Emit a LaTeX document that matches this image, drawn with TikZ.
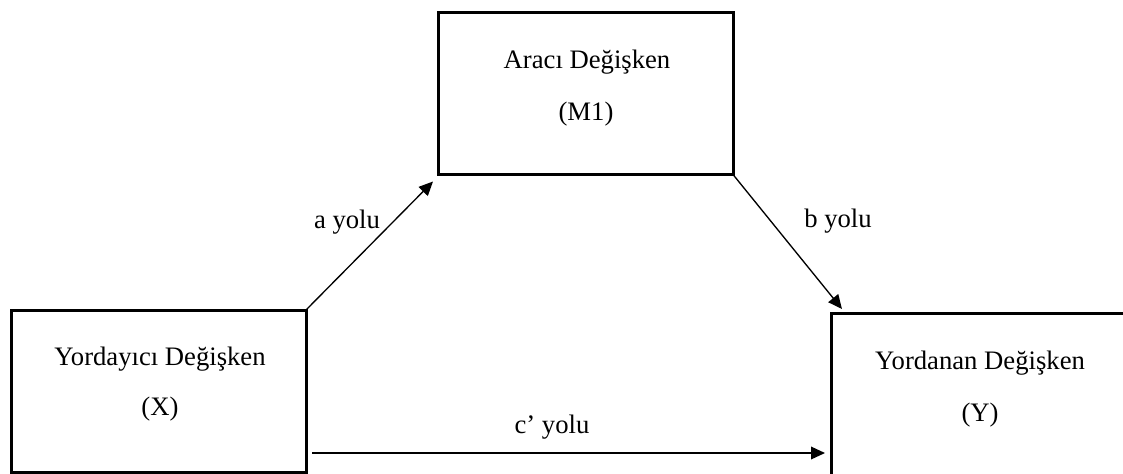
\documentclass[tikz,border=0pt]{standalone}
\usepackage{fontspec}
\setmainfont{Liberation Serif}
\usetikzlibrary{arrows.meta}
\begin{document}
\begin{tikzpicture}[x=0.75pt,y=-0.75pt,
  varbox/.style={draw, line width=2.25pt, inner sep=0pt, outer sep=0pt,
    minimum width=221.25pt, minimum height=121.5pt, anchor=north west},
  lbl/.style={font=\fontsize{20}{24}\selectfont, inner sep=0pt, anchor=base},
  arr/.style={line width=1pt, -{Triangle[length=10.5pt,width=9.5pt]}}]
\useasboundingbox (0,0) rectangle (1123,474);
\clip (0,0) rectangle (1123,474);
\node[varbox] (M) at (438,12.5) {};
\node[varbox] (X) at (11,310) {};
\node[varbox] (Y) at (831,313) {};
\node[lbl] (M1) at (587,69) {Aracı Değişken};
\node[lbl] (M2) at (586,121) {(M1)};
\node[lbl] (X1) at (160,365) {Yordayıcı Değişken};
\node[lbl] (X2) at (160,415) {(X)};
\node[lbl] (Y1) at (980,369) {Yordanan Değişken};
\node[lbl] (Y2) at (980,421) {(Y)};
\draw[arr] (X.north east) -- ([shift={(-5,7)}]M.south west);
\draw[arr] (M.south east) -- ([shift={(11,-4)}]Y.north west);
\draw[arr] ([shift={(6,-19)}]X.south east) -- ([shift={(-6,-22)}]Y.south west);
\node[lbl] (la) at (347,228) {a yolu};
\node[lbl] (lb) at (838,227) {b yolu};
\node[lbl] (lc) at (552,433) {c’ yolu};
\end{tikzpicture}
\end{document}
